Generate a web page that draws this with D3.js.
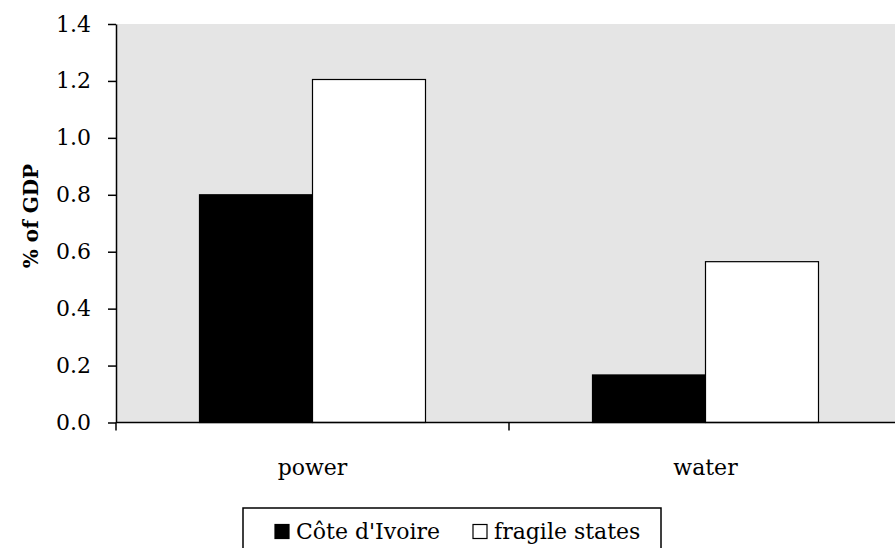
<!DOCTYPE html>
<html>
<head>
<meta charset="utf-8">
<script src="https://cdn.jsdelivr.net/npm/d3@7"></script>
<style>
  body { margin: 0; background: #fff; }
  text { font-family: "DejaVu Serif", serif; fill: #000; }
</style>
</head>
<body>
<div id="chart"></div>
<script>
const categories = ['power', 'water'];
const seriesNames = ["Côte d'Ivoire", 'fragile states'];
const coteDIvoire = [0.80, 0.167];
const fragileStates = [1.205, 0.565];
const yTicks = [0, 0.2, 0.4, 0.6, 0.8, 1.0, 1.2, 1.4];

const w = 895, h = 548;
const plotLeft = 116, plotTop = 24, plotBottom = 422.5, plotRight = 902;

const svg = d3.select('#chart').append('svg')
  .attr('width', w).attr('height', h);

// plot background
svg.append('rect')
  .attr('x', plotLeft).attr('y', plotTop)
  .attr('width', plotRight - plotLeft).attr('height', plotBottom - plotTop)
  .attr('fill', '#e5e5e5');

const x = d3.scaleBand().domain(categories).range([plotLeft, plotRight]);
const y = d3.scaleLinear().domain([0, 1.4]).range([plotBottom, plotTop]);
const barW = 113;

const rows = categories.map((c, i) => ({ cat: c, vals: [coteDIvoire[i], fragileStates[i]] }));
const fills = ['#000', '#fff'];

rows.forEach(r => {
  const cx = x(r.cat) + x.bandwidth() / 2;
  r.vals.forEach((v, j) => {
    svg.append('rect')
      .attr('x', cx - barW + j * barW)
      .attr('y', y(v))
      .attr('width', barW)
      .attr('height', plotBottom - y(v))
      .attr('fill', fills[j])
      .attr('stroke', '#000')
      .attr('stroke-width', 1.2);
  });
});

// y axis
const yAxis = d3.axisLeft(y).tickValues(yTicks).tickFormat(d3.format('.1f')).tickSize(8).tickSizeOuter(0);
const gy = svg.append('g').attr('transform', 'translate(' + plotLeft + ',0)').call(yAxis);
gy.select('.domain').attr('stroke', '#000').attr('stroke-width', 1.5);
gy.selectAll('.tick line').attr('stroke', '#000').attr('stroke-width', 1.5);
gy.selectAll('.tick text').attr('font-size', 22).attr('font-family', '"DejaVu Serif", serif').attr('x', -25);

// x axis
const gx = svg.append('g').attr('transform', 'translate(0,' + plotBottom + ')');
gx.append('line').attr('x1', plotLeft).attr('x2', plotRight).attr('stroke', '#000').attr('stroke-width', 1.5);
gx.selectAll('.sep').data([plotLeft, x(categories[1]), plotRight]).enter().append('line')
  .attr('x1', d => d).attr('x2', d => d).attr('y1', 0).attr('y2', 8)
  .attr('stroke', '#000').attr('stroke-width', 1.5);
gx.selectAll('.lab').data(categories).enter().append('text')
  .attr('x', d => x(d) + x.bandwidth() / 2)
  .attr('y', 52.5)
  .attr('text-anchor', 'middle')
  .attr('font-size', 22)
  .text(d => d);

// y label
svg.append('text')
  .attr('transform', 'translate(38,216) rotate(-90)')
  .attr('text-anchor', 'middle')
  .attr('font-size', 20)
  .attr('font-weight', 'bold')
  .text('% of GDP');

// legend
const lg = svg.append('g');
lg.append('rect').attr('x', 243).attr('y', 508).attr('width', 418).attr('height', 60)
  .attr('fill', '#fff').attr('stroke', '#000').attr('stroke-width', 1.5);
const items = [{ x: 275, fill: '#000' }, { x: 473, fill: '#fff' }];
items.forEach((it, i) => {
  lg.append('rect').attr('x', it.x).attr('y', 524.5).attr('width', 14).attr('height', 14)
    .attr('fill', it.fill).attr('stroke', '#000').attr('stroke-width', 1.2);
  lg.append('text').attr('x', it.x + 21).attr('y', 539)
    .attr('font-size', 22).text(seriesNames[i]);
});
</script>
</body>
</html>
